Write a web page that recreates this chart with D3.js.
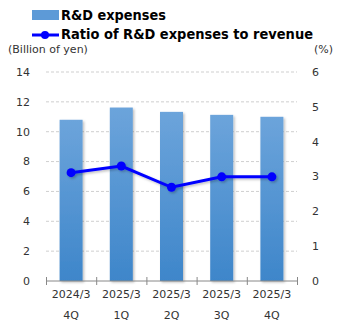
<!DOCTYPE html>
<html>
<head>
<meta charset="utf-8">
<script src="https://cdn.jsdelivr.net/npm/d3@7"></script>
<style>
body { margin: 0; background: #fff; }
text { font-family: Verdana, "DejaVu Sans", sans-serif; fill: #333; }
</style>
</head>
<body>
<div class="graphic"></div>
<script>
var width = 345;
var height = 330;

// data
var years = ["2024/3", "2025/3", "2025/3", "2025/3", "2025/3"];
var quarters = ["4Q", "1Q", "2Q", "3Q", "4Q"];
var expenses = [10.8, 11.62, 11.33, 11.13, 11.0];
var ratio = [3.11, 3.30, 2.69, 2.99, 2.99];
var leftTicks = [0, 2, 4, 6, 8, 10, 12, 14];
var rightTicks = [0, 1, 2, 3, 4, 5, 6];

var svg = d3.select("div.graphic").append("svg")
	.attr("width", width)
	.attr("height", height);

var defs = svg.append("defs");
var grad = defs.append("linearGradient")
	.attr("id", "barGrad")
	.attr("x1", 0).attr("y1", 0).attr("x2", 0).attr("y2", 1);
grad.append("stop").attr("offset", "0%").attr("stop-color", "#6ca4db");
grad.append("stop").attr("offset", "100%").attr("stop-color", "#3e86ca");

var shadow = defs.append("filter").attr("id", "shadow")
	.attr("x", "-20%").attr("y", "-20%").attr("width", "150%").attr("height", "150%");
shadow.append("feDropShadow")
	.attr("dx", 1.5).attr("dy", 1.5).attr("stdDeviation", 1.2)
	.attr("flood-color", "#000").attr("flood-opacity", 0.25);

var idx = d3.range(expenses.length);
var x = d3.scaleBand().domain(idx).range([46, 297]).paddingInner(0).paddingOuter(0);
var yL = d3.scaleLinear().domain([0, 14]).range([281, 72]);
var yR = d3.scaleLinear().domain([0, 6]).range([281, 72]);

// gridlines
svg.append("g").selectAll("line")
	.data(leftTicks.slice(1))
	.enter().append("line")
	.attr("x1", 46).attr("x2", 297)
	.attr("y1", function(d){ return yL(d); })
	.attr("y2", function(d){ return yL(d); })
	.attr("stroke", "#cfcfcf")
	.attr("stroke-dasharray", "3,2");

// left axis labels
svg.append("g").selectAll("text")
	.data(leftTicks)
	.enter().append("text")
	.attr("x", 30)
	.attr("y", function(d){ return yL(d); })
	.attr("dy", "0.35em")
	.attr("text-anchor", "end")
	.attr("font-size", 11)
	.text(function(d){ return d; });

// right axis labels
svg.append("g").selectAll("text")
	.data(rightTicks)
	.enter().append("text")
	.attr("x", 312)
	.attr("y", function(d){ return yR(d); })
	.attr("dy", "0.35em")
	.attr("text-anchor", "start")
	.attr("font-size", 11)
	.text(function(d){ return d; });

// bars
var bw = 23;
svg.append("g").selectAll("rect")
	.data(expenses)
	.enter().append("rect")
	.attr("x", function(d, i){ return x(i) + x.bandwidth()/2 - bw/2; })
	.attr("y", function(d){ return yL(d); })
	.attr("width", bw)
	.attr("height", function(d){ return yL(0) - yL(d); })
	.attr("fill", "url(#barGrad)")
	.attr("filter", "url(#shadow)");

// bottom axis
var xAxis = d3.axisBottom(d3.scaleLinear().domain([0, 5]).range([46, 297]))
	.ticks(5).tickSize(6).tickFormat("");
var ax = svg.append("g").attr("transform", "translate(0,281)").call(xAxis);
ax.select(".domain").attr("stroke", "#888").attr("d", "M46.5,0H297.5");
ax.selectAll(".tick line").attr("stroke", "#888").attr("y1", -4).attr("y2", 4);

svg.append("g").selectAll("text")
	.data(years)
	.enter().append("text")
	.attr("x", function(d, i){ return x(i) + x.bandwidth()/2; })
	.attr("y", 298)
	.attr("text-anchor", "middle")
	.attr("font-size", 11)
	.text(function(d){ return d; });

svg.append("g").selectAll("text")
	.data(quarters)
	.enter().append("text")
	.attr("x", function(d, i){ return x(i) + x.bandwidth()/2; })
	.attr("y", 319)
	.attr("text-anchor", "middle")
	.attr("font-size", 11)
	.text(function(d){ return d; });

// ratio line
var line = d3.line()
	.x(function(d, i){ return x(i) + x.bandwidth()/2; })
	.y(function(d){ return yR(d); });
var lineG = svg.append("g").attr("filter", "url(#shadow)");
lineG.append("path")
	.datum(ratio)
	.attr("d", line)
	.attr("fill", "none")
	.attr("stroke", "#0000ff")
	.attr("stroke-width", 3);
lineG.selectAll("circle")
	.data(ratio)
	.enter().append("circle")
	.attr("cx", function(d, i){ return x(i) + x.bandwidth()/2; })
	.attr("cy", function(d){ return yR(d); })
	.attr("r", 4.5)
	.attr("fill", "#0000ff");

// unit labels
svg.append("text").attr("x", 8).attr("y", 53).attr("font-size", 11).text("(Billion of yen)");
svg.append("text").attr("x", 333).attr("y", 53).attr("font-size", 11).attr("text-anchor", "end").text("(%)");

// legend
svg.append("rect").attr("x", 32).attr("y", 10).attr("width", 27).attr("height", 10).attr("fill", "#5d9ad7");
svg.append("text").attr("x", 61).attr("y", 20).attr("font-size", 14).attr("font-weight", "bold")
	.style("fill", "#000").attr("textLength", 105).attr("lengthAdjust", "spacingAndGlyphs")
	.text("R&D expenses");
svg.append("line").attr("x1", 32).attr("x2", 59).attr("y1", 35).attr("y2", 35)
	.attr("stroke", "#0000ff").attr("stroke-width", 3);
svg.append("circle").attr("cx", 45).attr("cy", 35).attr("r", 4).attr("fill", "#0000ff");
svg.append("text").attr("x", 61).attr("y", 39).attr("font-size", 14).attr("font-weight", "bold")
	.style("fill", "#000").attr("textLength", 252).attr("lengthAdjust", "spacingAndGlyphs")
	.text("Ratio of R&D expenses to revenue");
</script>
</body>
</html>
